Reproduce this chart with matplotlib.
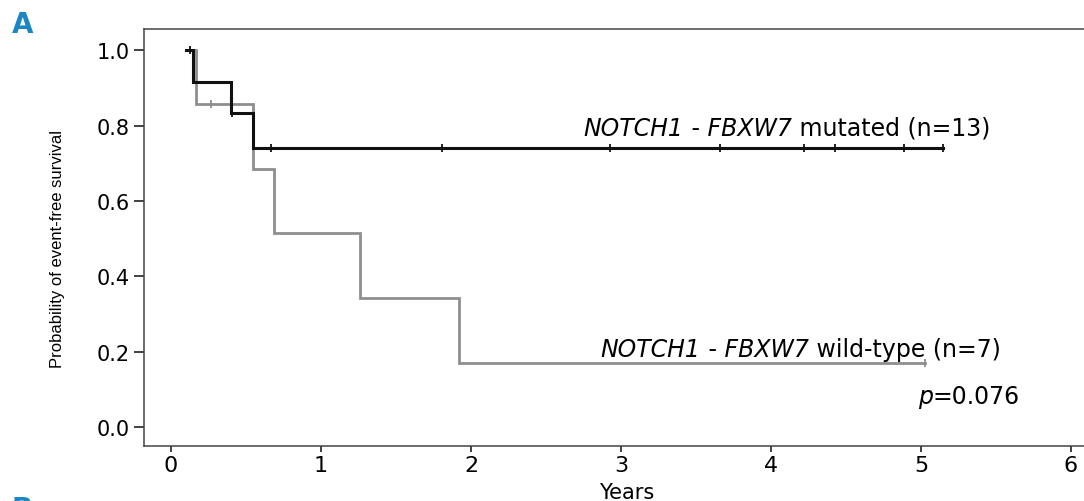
import numpy as np
import matplotlib
matplotlib.use("Agg")
import matplotlib.pyplot as plt

# Follow-up (years) and event flags (1 = event, 0 = censored)
mut_time = [0.13, 0.15, 0.40, 0.41, 0.55, 0.67, 1.81, 2.93, 3.66, 4.22, 4.43, 4.89, 5.15]
mut_event = [0, 1, 1, 0, 1, 0, 0, 0, 0, 0, 0, 0, 0]
wt_time = [0.17, 0.27, 0.55, 0.69, 1.26, 1.92, 5.03]
wt_event = [1, 0, 1, 1, 1, 1, 0]
curve_start = 0.10  # first time drawn on both curves

x_ticks = [0, 1, 2, 3, 4, 5, 6]
y_ticks = [0.0, 0.2, 0.4, 0.6, 0.8, 1.0]

# (text, italic?) segments of each curve label
label_mut = [("NOTCH1", True), (" -", False), (" FBXW7", True), (" mutated (n=13)", False)]
label_wt = [("NOTCH1", True), (" -", False), (" FBXW7", True), (" wild-type (n=7)", False)]
label_p = [("p", True), ("=0.076", False)]

NARROW = ["Liberation Sans", "DejaVu Sans"]
WIDE = ["DejaVu Sans"]


def kaplan_meier(times, events, start):
    t = np.asarray(times, float)
    e = np.asarray(events, int)
    order = np.argsort(t, kind="stable")
    t, e = t[order], e[order]
    surv = 1.0
    xs, ys = [start], [1.0]
    cens_x, cens_y = [], []
    at_risk = len(t)
    for ti, ei in zip(t, e):
        if ei:
            surv *= (at_risk - 1) / at_risk
            xs.append(ti)
            ys.append(surv)
        else:
            cens_x.append(ti)
            cens_y.append(surv)
        at_risk -= 1
    xs.append(t.max())
    ys.append(surv)
    return np.array(xs), np.array(ys), np.array(cens_x), np.array(cens_y)


def mixed_label(ax, x, y, segments, size):
    """Right-aligned label built from italic / upright pieces, chained leftwards."""
    style = lambda it: "italic" if it else "normal"
    txt, it = segments[-1]
    prev = ax.text(x, y, txt, ha="right", va="baseline", fontsize=size,
                   fontfamily=WIDE, fontstyle=style(it))
    for txt, it in reversed(segments[:-1]):
        prev = ax.annotate(txt, xy=(0, 0), xycoords=prev, ha="right", va="bottom",
                           fontsize=size, fontfamily=WIDE, fontstyle=style(it))


fig = plt.figure(figsize=(10.84, 5.02), dpi=100)
ax = fig.add_axes([144 / 1084, 55 / 502, 940 / 1084, 417 / 502])

for times, events, color, lw in [(wt_time, wt_event, "#8e8e8e", 2.0),
                                 (mut_time, mut_event, "#111111", 2.2)]:
    xs, ys, cx, cy = kaplan_meier(times, events, curve_start)
    ax.step(xs, ys, where="post", color=color, lw=lw, solid_joinstyle="miter")
    ax.plot(cx, cy, ls="none", marker="|", ms=6, mew=1.3, color=color)

ax.set_xlim(-0.18, 6.087)
ax.set_ylim(-0.05, 1.056)
ax.set_xticks(x_ticks)
ax.set_xticklabels([str(v) for v in x_ticks], fontfamily=WIDE, fontsize=16)
ax.set_yticks(y_ticks)
ax.set_yticklabels([f"{v:.1f}" for v in y_ticks], fontfamily=WIDE, fontsize=15)
ax.tick_params(axis="y", length=7, width=1.3, pad=3, color="#333333")
ax.tick_params(axis="x", length=4.5, width=1.3, pad=2, color="#333333")

for side in ["left", "bottom", "top"]:
    ax.spines[side].set_color("#444444")
    ax.spines[side].set_linewidth(1.1)
ax.spines["right"].set_visible(False)

ax.set_ylabel("Probability of event-free survival", fontfamily=NARROW, fontsize=12)
ax.yaxis.set_label_coords((65 - 144) / 940, (447 - 249) / 417)
ax.set_xlabel("Years", fontfamily=WIDE, fontsize=15)
ax.xaxis.set_label_coords((627 - 144) / 940, -(483 - 447) / 417)

mixed_label(ax, 5.46, 0.775, label_mut, 17)
mixed_label(ax, 5.53, 0.19, label_wt, 17)
mixed_label(ax, 5.66, 0.065, label_p, 17)

fig.text(12 / 1084, 1 - 33 / 502, "A", fontsize=20, fontweight="bold",
         color="#1b86c4", fontfamily=WIDE, va="baseline")
fig.text(12 / 1084, 1 - 518 / 502, "B", fontsize=20, fontweight="bold",
         color="#1b86c4", fontfamily=WIDE, va="baseline")

fig.savefig("out.png", dpi=100)
